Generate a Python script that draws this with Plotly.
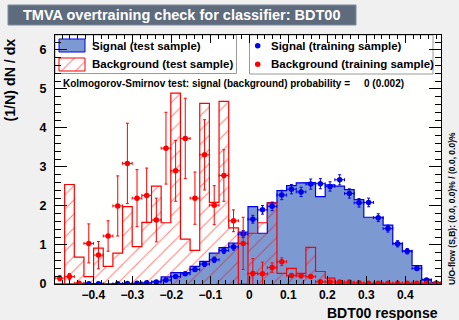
import numpy as np
import plotly.graph_objects as go

# ---- histogram binning -------------------------------------------------
XMIN, XMAX = -0.498, 0.4916
NBINS = 40

# Signal (test sample): normalised histogram
sig_test = [0, 0, 0, 0, 0, 0, 0, 0, 0.01, 0.02,
            0.07, 0.18, 0.29, 0.29, 0.45, 0.58, 0.79, 0.93, 1.05, 1.33,
            1.98, 1.30, 2.08, 2.39, 2.52, 2.59, 2.60, 2.24, 2.54, 2.51,
            2.42, 2.16, 1.71, 1.71, 1.51, 1.04, 0.85, 0.47, 0.12, 0.04]

# Background (test sample): normalised histogram
bkg_test = [0.0, 2.55, 0.69, 0.19, 0.92, 0.45, 0.79, 1.98, 0.96, 1.58,
            2.51, 1.57, 4.89, 1.15, 0.86, 4.63, 2.09, 4.68, 1.44, 0.0,
            1.30, 1.57, 2.08, 0.27, 0.40, 0.27, 0.94, 0.32, 0.15, 0.03,
            0.02, 0, 0, 0, 0, 0, 0, 0, 0, 0]

# Signal (training sample): points with errors (None = empty bin)
sig_train = [None, None, None, 0.005, 0.005, None, 0.005, 0.01, 0.02, 0.03,
             0.05, 0.10, 0.19, 0.26, 0.37, 0.51, 0.62, 0.86, 0.95, 1.28,
             1.66, 1.90, 1.99, 2.28, 2.43, 2.36, 2.56, 2.57, 2.50, 2.67,
             2.32, 2.08, 2.09, 1.70, 1.42, 1.03, 0.84, 0.40, 0.10, 0.02]
sig_train_err = [0, 0, 0, 0.005, 0.005, 0, 0.005, 0.005, 0.005, 0.01,
                 0.02, 0.03, 0.04, 0.04, 0.05, 0.06, 0.07, 0.08, 0.08, 0.09,
                 0.10, 0.11, 0.11, 0.12, 0.12, 0.12, 0.13, 0.13, 0.12, 0.13,
                 0.12, 0.11, 0.11, 0.10, 0.09, 0.08, 0.07, 0.05, 0.025, 0.01]

# Background (training sample): points with errors
bkg_train = [0.15, 0.19, 0.02, 1.04, 0.74, 1.23, 2.00, 3.09, 2.20, 2.27,
             1.64, 3.48, 2.90, 3.73, 2.20, 3.31, 2.02, 2.78, 1.62, 1.04,
             0.27, 0.26, 0.42, 0.57, 0.22, 0.21, 0.19, 0.06, 0.05, 0.05,
             0.05, 0.03, 0.02, 0.02, 0.02, 0.02, 0.02, 0.02, 0.02, 0.02]
bkg_train_err = [0.07, 0.08, 0.02, 0.50, 0.35, 0.39, 0.77, 1.03, 0.73, 0.70,
                 0.56, 0.92, 0.78, 1.03, 0.67, 0.90, 0.50, 0.66, 0.28, 0.67,
                 0.38, 0.30, 0.12, 0.10, 0.05, 0.05, 0.05, 0.02, 0.02, 0.02,
                 0.02, 0.01, 0.01, 0.01, 0.01, 0.01, 0.01, 0.01, 0.01, 0.01]

TITLE = "TMVA overtraining check for classifier: BDT00"
X_TITLE = "BDT00 response"
Y_TITLE = "(1/N) dN / dx"
KS_TEXT = "Kolmogorov-Smirnov test: signal (background) probability ="
KS_VALUE = "0 (0.002)"
UOFLOW = "U/O-flow (S,B): (0.0, 0.0)% / (0.0, 0.0)%"
LEG_LEFT = ["Signal (test sample)", "Background (test sample)"]
LEG_RIGHT = ["Signal (training sample)", "Background (training sample)"]
YMAX = 6.38

# ---- style -------------------------------------------------------------
SIG_LINE = "#0000ee"
SIG_FILL = "#7d99d1"
BKG_LINE = "#ff0000"
CANVAS = "#f0f0f0"
FRAME = "#fffffd"
TITLE_BOX = "#5D6B7D"
TITLE_BORDER = "#7D8B9D"
FONT = "Liberation Sans"

W, H = 459, 320
L, R, T, B = 55, 441, 35, 284   # frame in pixels


def px(p):
    return (p - L) / (R - L)


def py(p):
    return (B - p) / (B - T)


edges = np.linspace(XMIN, XMAX, NBINS + 1)
centers = 0.5 * (edges[:-1] + edges[1:])
bw = (XMAX - XMIN) / NBINS


def step_outline(vals):
    xs, ys = [edges[0]], [0.0]
    for i, v in enumerate(vals):
        xs += [edges[i], edges[i + 1]]
        ys += [v, v]
    xs.append(edges[-1])
    ys.append(0.0)
    return xs, ys


fig = go.Figure()

sx, sy = step_outline(sig_test)
fig.add_trace(go.Scatter(x=sx, y=sy, mode="lines", fill="toself",
                         fillcolor=SIG_FILL,
                         line=dict(color=SIG_LINE, width=1.2),
                         hoverinfo="skip", showlegend=False))

bx, by = step_outline(bkg_test)
fig.add_trace(go.Scatter(x=bx, y=by, mode="lines", fill="toself",
                         fillcolor="rgba(0,0,0,0)",
                         fillpattern=dict(shape="/", fgcolor=BKG_LINE,
                                          bgcolor="rgba(0,0,0,0)",
                                          size=10, solidity=0.1),
                         line=dict(color=BKG_LINE, width=1.2),
                         hoverinfo="skip", showlegend=False))


def points(vals, errs, color):
    return go.Scatter(
        x=centers, y=vals, mode="markers",
        marker=dict(color=color, size=5.5, symbol="circle"),
        error_y=dict(type="data", array=errs, color=color,
                     thickness=1, width=1.5),
        error_x=dict(type="constant", value=bw / 2, color=color,
                     thickness=1, width=1.5),
        hoverinfo="skip", showlegend=False)


fig.add_trace(points(sig_train, sig_train_err, SIG_LINE))
fig.add_trace(points(bkg_train, bkg_train_err, BKG_LINE))

# ---- legend boxes, drawn on an overlay axis measured in pixels ----------
def rect(x0, y0, x1, y1):
    return [x0, x1, x1, x0, x0], [y0, y0, y1, y1, y0]


for (x0, y0, x1, y1) in [(L, T, 236.5, 73.5), (249.5, T, 433, 74)]:
    rx, ry = rect(x0, y0, x1, y1)
    fig.add_trace(go.Scatter(x=rx, y=ry, xaxis="x2", yaxis="y2",
                             mode="lines", fill="toself", fillcolor="white",
                             line=dict(color="#9a9a9a", width=1),
                             hoverinfo="skip", showlegend=False))

rx, ry = rect(59, 39, 85, 52)
fig.add_trace(go.Scatter(x=rx, y=ry, xaxis="x2", yaxis="y2", mode="lines",
                         fill="toself", fillcolor=SIG_FILL,
                         line=dict(color=SIG_LINE, width=1),
                         hoverinfo="skip", showlegend=False))
rx, ry = rect(59, 58, 85, 71)
fig.add_trace(go.Scatter(x=rx, y=ry, xaxis="x2", yaxis="y2", mode="lines",
                         fill="toself", fillcolor="rgba(0,0,0,0)",
                         fillpattern=dict(shape="/", fgcolor=BKG_LINE,
                                          bgcolor="rgba(0,0,0,0)",
                                          size=10, solidity=0.1),
                         line=dict(color=BKG_LINE, width=1),
                         hoverinfo="skip", showlegend=False))
fig.add_trace(go.Scatter(x=[257.7, 257.7], y=[45.7, 64.3], xaxis="x2",
                         yaxis="y2", mode="markers",
                         marker=dict(color=[SIG_LINE, BKG_LINE], size=5.5),
                         hoverinfo="skip", showlegend=False))

bold = dict(family=FONT, color="black", weight="bold")

axis_common = dict(showgrid=False, zeroline=False, showline=True,
                   linecolor="black", linewidth=1, mirror="ticks",
                   ticks="inside", tickcolor="black", tickwidth=1,
                   layer="above traces")

fig.update_layout(
    width=W, height=H,
    margin=dict(l=L, r=W - R, t=T, b=H - B, pad=0),
    paper_bgcolor=CANVAS, plot_bgcolor=FRAME,
    xaxis=dict(range=[XMIN, XMAX], dtick=0.1, tick0=0, ticklen=8,
               tickfont=dict(size=12, **bold), ticklabelstandoff=0,
               minor=dict(dtick=0.02, tick0=0, ticks="inside", ticklen=4,
                          tickcolor="black"),
               **axis_common),
    yaxis=dict(range=[0, YMAX], dtick=1, tick0=0, ticklen=12,
               tickfont=dict(size=12.5, **bold), ticklabelstandoff=5,
               minor=dict(dtick=0.2, tick0=0, ticks="inside", ticklen=6,
                          tickcolor="black"),
               **axis_common),
    xaxis2=dict(range=[L, R], overlaying="x", visible=False,
                fixedrange=True),
    yaxis2=dict(range=[B, T], overlaying="y", visible=False,
                fixedrange=True),
    showlegend=False,
)

shapes = [dict(type="rect", xref="paper", yref="paper",
               x0=px(8), x1=px(356), y0=py(5), y1=py(25),
               fillcolor=TITLE_BOX, line=dict(color=TITLE_BORDER, width=1),
               layer="above")]
fig.update_layout(shapes=shapes)


def ann(text, x, y, size, xanchor="left", yanchor="middle", angle=0,
        color="black"):
    fig.add_annotation(text=text, xref="paper", yref="paper", x=px(x),
                       y=py(y), xanchor=xanchor, yanchor=yanchor,
                       showarrow=False, textangle=angle,
                       font=dict(family=FONT, size=size, color=color,
                                 weight="bold"))


ann(TITLE, 20.5, 15, 14.5, color="white")
ann(LEG_LEFT[0], 90, 45.7, 11.5)
ann(LEG_LEFT[1], 90, 64.3, 11.5)
ann(LEG_RIGHT[0], 269.3, 45.7, 11.5)
ann(LEG_RIGHT[1], 269.3, 64.3, 11.5)
ann(KS_TEXT, 60.5, 83.3, 10)
ann(KS_VALUE, 361.5, 83.3, 10)
ann(X_TITLE, 440, 313, 14, xanchor="right")
ann(Y_TITLE, 9, 37, 14.2, xanchor="center", yanchor="top", angle=-90)
ann(UOFLOW, 451.5, 208.5, 8.5, xanchor="center", angle=-90)

fig.write_html("out.html")
